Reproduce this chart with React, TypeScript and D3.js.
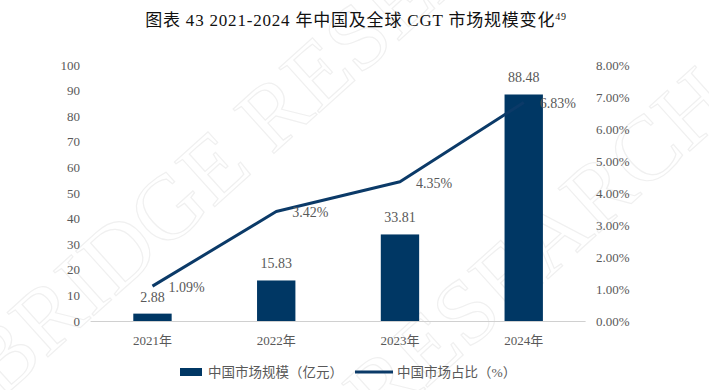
import React from "react";
import * as d3 from "d3";

const categories = ["2021年", "2022年", "2023年", "2024年"];
const marketSize = [2.88, 15.83, 33.81, 88.48];
const marketShare = [1.09, 3.42, 4.35, 6.83];
const leftTicks = [0, 10, 20, 30, 40, 50, 60, 70, 80, 90, 100];
const rightTicks = [0, 1, 2, 3, 4, 5, 6, 7, 8];

const W = 709;
const H = 390;
const BAR = "#003764";
const LINE = "#0b3a68";
const GRAY = "#595959";
const SERIF = "'Liberation Serif', 'Times New Roman', 'Noto Sans CJK SC', serif";

export default function App() {
  const x = d3.scaleBand<string>().domain(categories).range([90.6, 585.6]).paddingInner(0.69).paddingOuter(0.345);
  const yL = d3.scaleLinear().domain([0, 100]).range([321, 65]);
  const yR = d3.scaleLinear().domain([0, 8]).range([321, 65]);
  const cx = (c: string) => (x(c) as number) + x.bandwidth() / 2;
  const line = d3
    .line<number>()
    .x((_, i) => cx(categories[i]))
    .y((d) => yR(d));

  return (
    <svg width={W} height={H} style={{ display: "block", position: "absolute", left: 0, top: 0 }} fontFamily={SERIF}>
      <defs>
        <clipPath id="wm">
          <rect width={W} height={H} />
        </clipPath>
      </defs>
      <rect width={W} height={H} fill="#ffffff" />
      <g clipPath="url(#wm)">
        <g fill="none" stroke="#f0f0f0" strokeWidth={1.2} fontSize={92} fontFamily={SERIF}>
          <text transform="translate(0,400) rotate(-42)">BRIDGE RESEARCH</text>
          <text transform="translate(380,430) rotate(-42)">RESEARCH</text>
        </g>
      </g>
      <text x={356} y={26} textAnchor="middle" fontSize={17} fill="#111" letterSpacing={0.8}>
        图表 43 2021-2024 年中国及全球 CGT 市场规模变化
        <tspan fontSize={10} dy={-6}>49</tspan>
      </text>
      {/* baseline */}
      <line x1={90.6} x2={585.6} y1={321.5} y2={321.5} stroke="#d0d0d0" strokeWidth={1} />
      {leftTicks.map((t) => (
        <text key={"l" + t} x={80} y={yL(t)} dy="0.35em" textAnchor="end" fontSize={13} fill={GRAY}>
          {t}
        </text>
      ))}
      {rightTicks.map((t) => (
        <text key={"r" + t} x={596} y={yR(t)} dy="0.35em" textAnchor="start" fontSize={13} fill={GRAY}>
          {t.toFixed(2)}%
        </text>
      ))}
      {categories.map((c) => (
        <text key={"x" + c} x={cx(c)} y={340} dy="0.35em" textAnchor="middle" fontSize={13} fill={GRAY}>
          {c}
        </text>
      ))}
      {marketSize.map((v, i) => (
        <rect
          key={"b" + i}
          x={x(categories[i]) as number}
          y={yL(v)}
          width={x.bandwidth()}
          height={yL(0) - yL(v)}
          fill={BAR}
        />
      ))}
      {marketSize.map((v, i) => (
        <text key={"bl" + i} x={cx(categories[i])} y={yL(v) - 12} textAnchor="middle" fontSize={14} fill={GRAY}>
          {v.toFixed(2)}
        </text>
      ))}
      <path d={line(marketShare) || ""} fill="none" stroke={LINE} strokeWidth={3} strokeLinejoin="round" />
      {marketShare.map((v, i) => (
        <text key={"ll" + i} x={cx(categories[i]) + 16} y={yR(v) + 1} dy="0.35em" textAnchor="start" fontSize={14} fill={GRAY}>
          {v.toFixed(2)}%
        </text>
      ))}
      <rect x={180} y={368} width={22} height={8} fill={BAR} />
      <text x={208} y={372} dy="0.35em" fontSize={13.5} fill={GRAY}>
        中国市场规模（亿元）
      </text>
      <line x1={355} x2={393} y1={372} y2={372} stroke={LINE} strokeWidth={3} />
      <text x={397} y={372} dy="0.35em" fontSize={13.5} fill={GRAY}>
        中国市场占比（%）
      </text>
    </svg>
  );
}
